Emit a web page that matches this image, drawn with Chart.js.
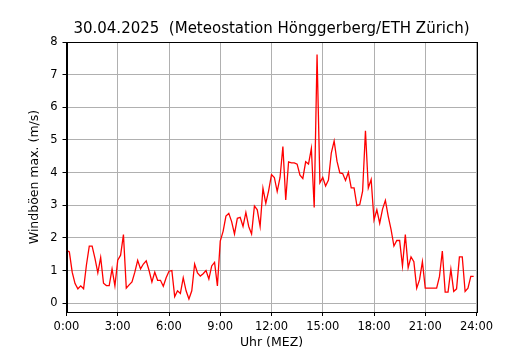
<!DOCTYPE html>
<html>
<head>
<meta charset="utf-8">
<script src="https://cdn.jsdelivr.net/npm/chart.js@4"></script>
<style>
  body { margin: 0; background: #fff; }
  canvas { display: block; }
</style>
</head>
<body>
<canvas id="chart-node" width="530" height="350"></canvas>
<script>
// Windböen max. (m/s), 10-Minuten-Werte, 30.04.2025
var gustValues = [
  1.62, 1.57, 0.95, 0.60, 0.44, 0.53, 0.44, 1.17, 1.75, 1.75, 1.37, 0.93,
  1.40, 0.61, 0.54, 0.54, 1.05, 0.53, 1.32, 1.47, 2.10, 0.46, 0.56, 0.65,
  0.95, 1.31, 1.05, 1.20, 1.30, 1.00, 0.65, 0.95, 0.70, 0.70, 0.52, 0.78,
  0.98, 1.00, 0.20, 0.38, 0.30, 0.78, 0.38, 0.13, 0.38, 1.20, 0.93, 0.83,
  0.90, 1.00, 0.74, 1.14, 1.25, 0.53, 1.90, 2.20, 2.67, 2.75, 2.50, 2.12,
  2.60, 2.63, 2.35, 2.78, 2.35, 2.12, 2.98, 2.86, 2.35, 3.52, 3.06, 3.45,
  3.94, 3.85, 3.42, 3.85, 4.80, 3.16, 4.33, 4.30, 4.30, 4.26, 3.92, 3.82,
  4.33, 4.26, 4.74, 2.93, 7.62, 3.69, 3.85, 3.59, 3.77, 4.60, 4.97, 4.35,
  3.99, 3.97, 3.76, 4.01, 3.53, 3.53, 2.99, 3.02, 3.43, 5.28, 3.53, 3.79,
  2.55, 2.86, 2.45, 2.88, 3.15, 2.66, 2.25, 1.75, 1.92, 1.92, 1.14, 2.10,
  1.09, 1.42, 1.27, 0.46, 0.72, 1.27, 0.46, 0.46, 0.46, 0.46, 0.46, 0.82,
  1.60, 0.34, 0.34, 1.04, 0.36, 0.44, 1.42, 1.42, 0.36, 0.46, 0.82, 0.82
];
var stepMinutes = 10;
var hourTicks = [0, 3, 6, 9, 12, 15, 18, 21, 24];
var yTicks = [0, 1, 2, 3, 4, 5, 6, 7, 8];

var titleText = "30.04.2025  (Meteostation Hönggerberg/ETH Zürich)";
var yLabel = "Windböen max. (m/s)";
var xLabel = "Uhr (MEZ)";

Chart.defaults.font.family = "'DejaVu Sans', sans-serif";
Chart.defaults.color = "#000";

// matplotlib style frame on all four sides
var framePlugin = {
  id: "frame",
  afterDraw: function(chart) {
    var a = chart.chartArea;
    var ctx = chart.ctx;
    ctx.save();
    ctx.strokeStyle = "#000";
    ctx.lineWidth = 1;
    ctx.strokeRect(Math.round(a.left) + 0.5, Math.round(a.top) + 0.5,
      Math.round(a.right - a.left), Math.round(a.bottom - a.top));
    ctx.restore();
  }
};

function generateChart() {
  var points = [];
  for (var i = 0; i < gustValues.length; i++) {
    points.push({ x: i * stepMinutes / 60, y: gustValues[i] });
  }
  var ctx = document.getElementById("chart-node").getContext("2d");
  var config = {
    type: "line",
    data: {
      datasets: [{
        data: points,
        borderColor: "#ff0000",
        borderWidth: 1.3,
        pointRadius: 0,
        tension: 0,
        fill: false
      }]
    },
    options: {
      responsive: false,
      animation: false,
      devicePixelRatio: 1,
      layout: { padding: { left: 27, right: 53.5, top: 0, bottom: 0 } },
      plugins: {
        legend: { display: false },
        tooltip: { enabled: false },
        title: {
          display: true,
          fullSize: false, // centre over the plot area like matplotlib
          text: titleText,
          color: "#000",
          font: { size: 15, weight: "normal" },
          padding: { top: 20, bottom: 4 }
        }
      },
      scales: {
        x: {
          type: "linear",
          min: 0,
          max: 24,
          afterFit: function(scale) { scale.height = 38; },
          afterBuildTicks: function(scale) {
            scale.ticks = hourTicks.map(function(v) { return { value: v }; });
          },
          ticks: {
            padding: 4,
            maxRotation: 0,
            font: { size: 11.5 },
            callback: function(v) { return v + ":00"; }
          },
          grid: { color: "#b0b0b0", lineWidth: 1, tickColor: "#000", tickLength: 4 },
          border: { display: true, color: "#000", width: 1 },
          title: { display: true, text: xLabel, font: { size: 12.5 }, padding: { top: 0, bottom: 0 } }
        },
        y: {
          min: -0.27,
          max: 8,
          afterFit: function(scale) { scale.width = 39.5; },
          afterBuildTicks: function(scale) {
            scale.ticks = yTicks.map(function(v) { return { value: v }; });
          },
          ticks: { padding: 5, font: { size: 11.5 } },
          grid: { color: "#b0b0b0", lineWidth: 1, tickColor: "#000", tickLength: 4 },
          border: { display: true, color: "#000", width: 1 },
          title: { display: true, text: yLabel, font: { size: 12.5 }, padding: { top: 0, bottom: 0 } }
        }
      }
    },
    plugins: [framePlugin]
  };
  new Chart(ctx, config);
}
generateChart();
</script>
</body>
</html>
